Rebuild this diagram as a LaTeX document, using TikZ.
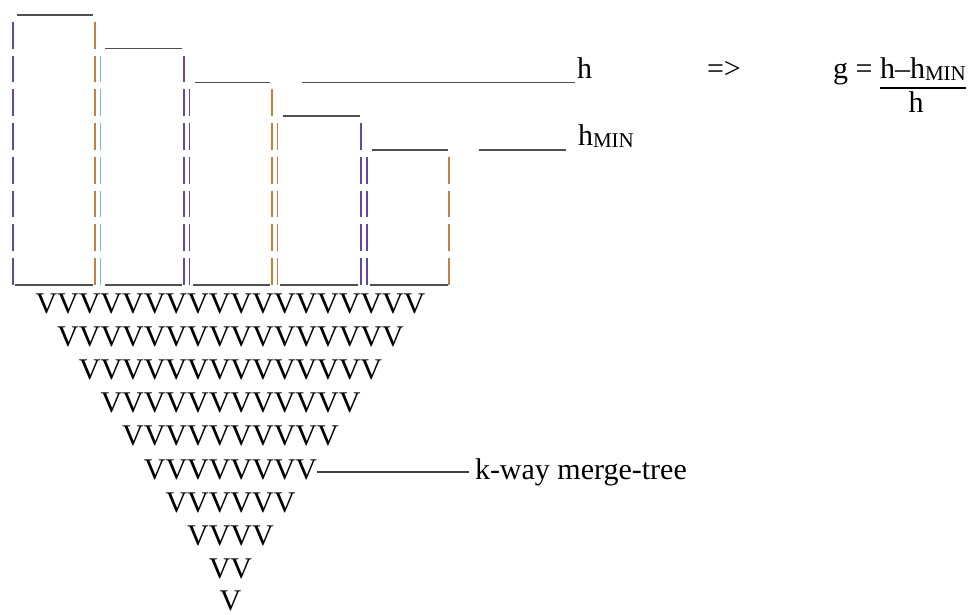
\documentclass[tikz,border=0pt]{standalone}
\usepackage{fontspec}
\setmainfont{Liberation Serif}
\definecolor{barP}{RGB}{98,72,160}
\definecolor{barO}{RGB}{196,128,62}
\definecolor{barB}{RGB}{120,186,226}
\definecolor{ulgray}{RGB}{80,80,80}
\newcommand\lowsub[1]{\raisebox{-2pt}{\fontsize{21}{21}\selectfont #1}}
\tikzset{
  txt/.style={inner sep=0pt, outer sep=0pt, font=\fontsize{30}{34}\selectfont},
  vrow/.style={txt, anchor=base},
  bar/.style={line width=1.8pt},
  under/.style={line width=1.8pt, ulgray},
}
\begin{document}
\begin{tikzpicture}[x=1pt,y=-1pt]
\useasboundingbox (0,0) rectangle (968,615);

% vertical strokes of the stacked blocks, one segment per text line
\foreach \x/\first/\col in {12.7/1/barP, 95/1/barO, 100.5/2/barB, 184/2/barP,
    189.5/3/barP, 272/3/barO, 277.5/4/barO, 361/4/barP, 367/5/barP, 449/5/barO} {
  \foreach \k in {\first,...,8} {
    \draw[bar,\col] (\x,{22+33.7*(\k-1)}) -- ++(0,26.8);
  }
}

% block tops, bottoms and the two level lines
\foreach \a/\b/\y in {17/93/15, 105/182/48.5, 195/270/82.5, 302/575/82.5,
    283/360/116, 372/448/150, 479/566/150,
    15/93/285, 105/182/285, 193/270/285, 280/358/285, 370/448/285}
  \draw[under] (\a,\y) -- (\b,\y);

% level labels
\node[txt, anchor=base west] (hlab) at (577,79) {h};
\node[txt, anchor=base west] (hminlab) at (578,145) {h\lowsub{MIN}};

% implication and formula
\node[txt, anchor=base west] (impl) at (707,79) {=>};
\node[txt, anchor=base west] (geq) at (833,79) {g =};
\node[txt, anchor=base west] (num) at (880,79) {h–h\lowsub{MIN}};
\draw[line width=1.4pt] ([yshift=-9pt]num.base west) -- ([yshift=-9pt]num.base east);
\node[txt, anchor=base] (den) at (916,113) {h};

% merge tree rows
\node[vrow] (v1) at (230.5,313) {VVVVVVVVVVVVVVVVVV};
\node[vrow] (v2) at (230.5,346.2) {VVVVVVVVVVVVVVVV};
\node[vrow] (v3) at (230.5,379.4) {VVVVVVVVVVVVVV};
\node[vrow] (v4) at (230.5,412.6) {VVVVVVVVVVVV};
\node[vrow] (v5) at (230.5,445.8) {VVVVVVVVVV};
\node[vrow] (v6) at (230.5,479) {VVVVVVVV};
\node[vrow] (v7) at (230.5,512.2) {VVVVVV};
\node[vrow] (v8) at (230.5,545.4) {VVVV};
\node[vrow] (v9) at (230.5,578.6) {VV};
\node[vrow] (v10) at (230.5,610.5) {V};

% tree label
\node[txt, anchor=base west] (kway) at (475,479) {k-way merge-tree};
\draw[line width=1.2pt, black!75] ([yshift=7pt]v6.base east) -- ([yshift=7pt,xshift=-6pt]kway.base west);
\end{tikzpicture}
\end{document}
